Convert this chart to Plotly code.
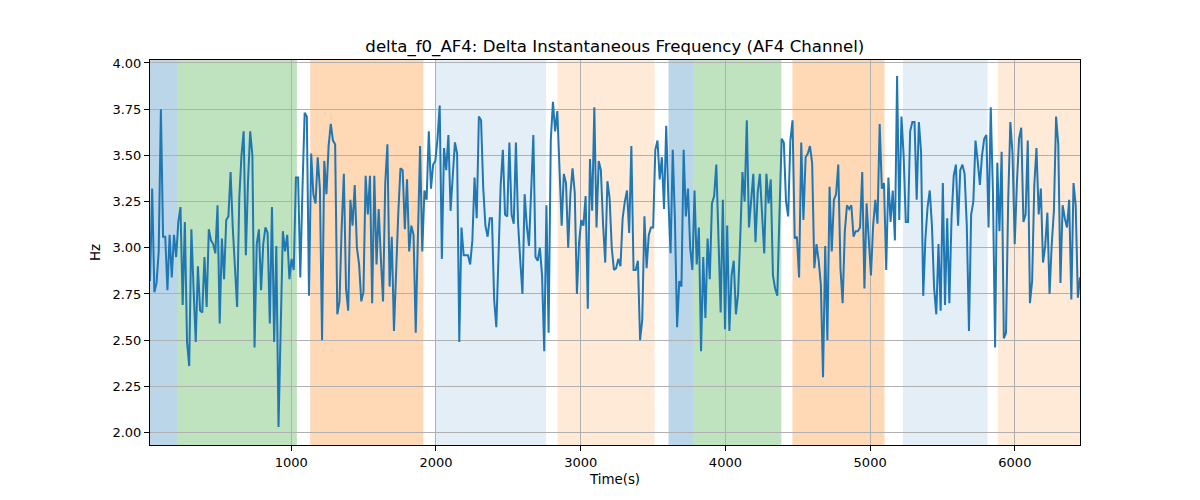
import numpy as np
import plotly.graph_objects as go

values = [
    # 0 - ~620 s
    2.82, 3.32, 2.76, 2.81, 2.98, 3.75, 3.06, 3.06, 2.77, 3.07, 2.84, 3.07, 2.95, 3.14, 3.22, 2.69, 3.14, 2.49, 2.36, 3.10,
    2.78, 2.49, 2.90, 2.66, 2.65, 2.95, 2.68, 3.10, 3.04, 3.02, 2.97, 3.23, 2.59, 3.05, 2.83, 3.15, 3.17, 3.41, 3.11, 2.89,
    # ~640 - 1260 s
    2.68, 3.27, 3.50, 3.63, 2.96, 3.36, 3.63, 3.50, 2.46, 3.02, 3.10, 2.77, 3.02, 3.11, 3.08, 2.59, 3.22, 2.49, 3.01, 2.03,
    2.53, 3.09, 2.98, 3.07, 2.83, 2.94, 2.88, 3.38, 3.38, 2.84, 3.32, 3.73, 3.71, 2.74, 3.51, 3.29, 3.24, 3.49, 3.32, 2.50,
    3.47, 3.29,
    # ~1280 - 1900 s
    3.55, 3.67, 3.58, 3.56, 2.64, 2.71, 3.11, 3.40, 2.78, 2.66, 3.26, 3.12, 3.34, 3.00, 2.91, 2.71, 2.76, 3.39, 3.18, 3.39,
    2.70, 3.39, 2.91, 3.21, 2.94, 2.71, 3.35, 3.56, 2.79, 3.06, 2.55, 2.89, 3.19, 3.43, 3.42, 3.10, 3.37, 2.98, 3.12, 3.07,
    2.54, 3.06, 3.55,
    # ~1915 - 2540 s
    2.98, 3.31, 3.26, 3.63, 3.32, 3.45, 3.47, 3.59, 3.77, 2.94, 3.54, 3.42, 3.61, 3.20, 3.39, 3.57, 3.51, 2.49, 3.11, 2.96,
    2.96, 2.96, 2.91, 3.04, 3.38, 3.16, 3.71, 3.69, 3.32, 3.12, 3.06, 3.16, 3.16, 2.72, 2.57, 2.98, 3.34, 3.53, 3.18, 3.17,
    3.57, 3.18,
    # ~2550 - 3180 s
    3.13, 3.57, 3.13, 2.93, 2.75, 3.29, 3.12, 3.01, 3.34, 3.61, 2.95, 2.93, 3.00, 2.85, 2.44, 3.23, 2.54, 3.58, 3.79, 3.63,
    3.74, 3.39, 3.12, 3.40, 3.35, 3.00, 3.29, 3.43, 3.30, 2.75, 3.03, 3.15, 3.12, 3.28, 2.67, 3.48, 3.20, 3.76, 3.11, 3.47,
    3.42, 3.13, 2.92,
    # ~3195 - 3815 s
    3.36, 3.27, 3.00, 2.88, 2.89, 2.94, 2.90, 3.16, 3.25, 3.31, 3.08, 3.55, 2.88, 2.88, 2.93, 2.50, 2.61, 3.17, 2.89, 3.07,
    3.11, 3.11, 3.53, 3.58, 3.37, 3.49, 3.21, 3.66, 3.26, 2.97, 3.53, 3.15, 2.57, 2.82, 2.79, 3.53, 3.17, 3.32, 3.00, 2.88,
    3.31, 2.91,
    # ~3825 - 4450 s
    3.11, 2.44, 2.95, 2.62, 3.05, 2.83, 3.24, 3.28, 3.45, 3.05, 2.65, 3.26, 2.56, 3.12, 2.55, 2.85, 2.93, 2.64, 2.75, 3.06,
    3.41, 3.25, 3.69, 3.11, 3.25, 3.40, 3.03, 3.30, 3.40, 3.20, 2.97, 3.40, 3.24, 3.37, 2.85, 2.78, 2.74, 3.18, 3.59, 3.57,
    3.25, 3.17, 3.58,
    # ~4470 - 5090 s
    3.69, 3.05, 3.06, 2.84, 3.57, 3.15, 3.49, 3.51, 3.55, 3.46, 2.89, 3.02, 2.93, 2.80, 2.30, 3.01, 2.50, 3.33, 2.98, 3.26,
    3.29, 3.45, 2.89, 2.70, 3.09, 3.23, 3.21, 3.23, 3.06, 3.09, 3.09, 3.11, 3.41, 2.78, 3.24, 3.03, 2.85, 3.12, 3.26, 3.13,
    3.67, 3.32,
    # ~5100 - 5730 s
    3.35, 2.88, 3.38, 3.14, 3.31, 3.04, 3.93, 3.15, 3.71, 3.50, 3.14, 3.14, 3.63, 3.68, 3.68, 3.26, 3.68, 3.52, 2.74, 3.05,
    3.22, 3.31, 3.12, 2.78, 2.64, 3.02, 2.66, 3.35, 2.69, 3.16, 2.70, 3.16, 3.39, 3.45, 3.12, 3.42, 3.45, 3.40, 3.12, 2.55,
    3.18, 3.25, 3.58,
    # ~5745 - 6450 s
    3.47, 3.34, 3.50, 3.59, 3.61, 3.11, 3.76, 3.30, 2.46, 3.46, 3.09, 3.52, 2.51, 2.54, 3.25, 3.68, 3.51, 3.02, 3.35, 3.59,
    3.65, 3.14, 3.18, 3.58, 2.70, 2.82, 3.34, 3.54, 3.18, 3.32, 2.92, 3.01, 3.19, 2.75, 3.02, 3.20, 3.71, 3.56, 2.81, 3.23,
    3.16, 3.11, 3.26, 2.72, 3.35, 3.23, 2.73, 2.84,
]

t_start = 24.0
t_step = 15.05
time = t_start + t_step * np.arange(len(values))

# Shaded segments: (start, end, colour)
seg_starts = [24, 216, 1131, 1996, 2840, 3607, 3780, 4463, 5226, 5882]
seg_ends = [216, 1039, 1913, 2761, 3510, 3780, 4386, 5099, 5811, 6450]
seg_colors = [
    "rgba(31,119,180,0.3)", "rgba(44,160,44,0.3)", "rgba(255,127,14,0.3)",
    "rgba(31,119,180,0.12)", "rgba(255,127,14,0.16)",
    "rgba(31,119,180,0.3)", "rgba(44,160,44,0.3)", "rgba(255,127,14,0.3)",
    "rgba(31,119,180,0.12)", "rgba(255,127,14,0.16)",
]

x_ticks = [1000, 2000, 3000, 4000, 5000, 6000]
y_ticks = [2.00, 2.25, 2.50, 2.75, 3.00, 3.25, 3.50, 3.75, 4.00]

fig = go.Figure()
fig.add_trace(go.Scatter(x=time, y=values, mode="lines",
                         line=dict(color="#1f77b4", width=2), showlegend=False))

shapes = []
for s, e, c in zip(seg_starts, seg_ends, seg_colors):
    shapes.append(dict(type="rect", xref="x", yref="paper", x0=s, x1=e, y0=0, y1=1,
                       fillcolor=c, line=dict(width=0), layer="below"))

font = "DejaVu Sans, Arial, sans-serif"
fig.update_layout(
    width=1200, height=500,
    margin=dict(l=142, r=128, t=52, b=63),
    paper_bgcolor="white", plot_bgcolor="white",
    shapes=shapes,
    title=dict(text="delta_f0_AF4: Delta Instantaneous Frequency (AF4 Channel)",
               x=0.5057, xanchor="center", y=0.924, yanchor="middle",
               font=dict(family=font, size=16.6, color="black")),
    font=dict(family=font, size=13, color="black"),
)
fig.update_xaxes(range=[time[0], 6450], tickvals=x_ticks, ticktext=[str(v) for v in x_ticks],
                 showgrid=True, gridcolor="#b0b0b0", gridwidth=1,
                 showline=True, linecolor="black", linewidth=1, mirror=True,
                 ticks="outside", ticklen=5, tickcolor="black", zeroline=False,
                 title=dict(text="Time(s)", font=dict(family=font, size=13.4), standoff=6),
                 tickfont=dict(family=font, size=13))
fig.update_yaxes(range=[1.933, 4.016], tickvals=y_ticks, ticktext=[f"{v:.2f}" for v in y_ticks],
                 showgrid=True, gridcolor="#b0b0b0", gridwidth=1,
                 showline=True, linecolor="black", linewidth=1, mirror=True,
                 ticks="outside", ticklen=5, tickcolor="black", zeroline=False,
                 title=dict(text="Hz", font=dict(family=font, size=13.4), standoff=8),
                 tickfont=dict(family=font, size=13))

fig.write_html("out.html")
